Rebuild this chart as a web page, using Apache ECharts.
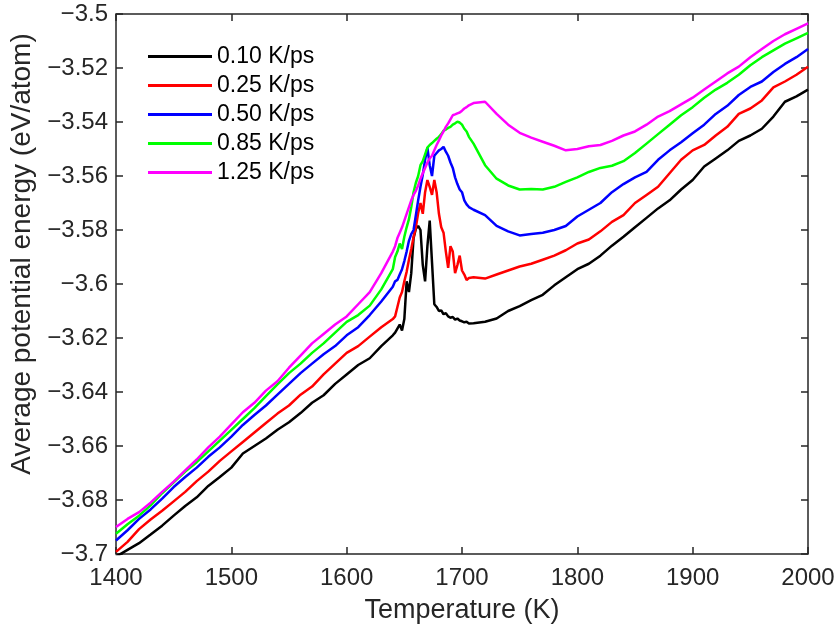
<!doctype html>
<html>
<head>
<meta charset="UTF-8">
<title>Average potential energy</title>
<script src="https://cdn.jsdelivr.net/npm/echarts@6/dist/echarts.min.js"></script>
<style>
html,body{margin:0;padding:0;background:#fff}
#main{width:839px;height:641px}
</style>
</head>
<body>
<div id="main"></div>
<script>
// temperature grid (K), denser round the melting peaks
var temps = [1400,1410,1420,1430,1440,1450,1460,1470,1480,1490,1500,1510,1520,1530,1540,1550,1560,1570,1580,1590,1600,1610,1620,1630,1640,
  1642,1644,1646,1648,1650,1652,1654,1656,1658,1660,1662,1664,1666,1668,1670,1672,1674,1676,1678,1680,1682,1684,1686,1688,1690,1692,1694,1696,1698,1700,1702,1704,1706,
  1710,1720,1730,1740,1750,1760,1770,1780,1790,1800,1810,1820,1830,1840,1850,1860,1870,1880,1890,1900,1910,1920,1930,1940,1950,1960,1970,1980,1990,2000];

var rate010 = [-3.7010,-3.6985,-3.6960,-3.6928,-3.6895,-3.6858,-3.6822,-3.6790,-3.6748,-3.6715,-3.6680,-3.6628,-3.6600,-3.6572,-3.6540,-3.6512,-3.6478,-3.6440,-3.6412,-3.6370,-3.6335,-3.6300,-3.6275,-3.6230,-3.6190,
  -3.6180,-3.6165,-3.6150,-3.6172,-3.6130,-3.5990,-3.6030,-3.5960,-3.5830,-3.5795,-3.5785,-3.5800,-3.5930,-3.5990,-3.5860,-3.5765,-3.5920,-3.6075,-3.6085,-3.6100,-3.6098,-3.6112,-3.6108,-3.6120,-3.6125,-3.6122,-3.6132,-3.6128,-3.6135,-3.6138,-3.6142,-3.6140,-3.6146,
  -3.6145,-3.6140,-3.6128,-3.6100,-3.6082,-3.6060,-3.6040,-3.6005,-3.5975,-3.5945,-3.5925,-3.5895,-3.5858,-3.5825,-3.5790,-3.5755,-3.5720,-3.5690,-3.5650,-3.5615,-3.5565,-3.5535,-3.5505,-3.5470,-3.5450,-3.5425,-3.5380,-3.5325,-3.5305,-3.5280];

var rate025 = [-3.6992,-3.6955,-3.6908,-3.6872,-3.6840,-3.6805,-3.6770,-3.6730,-3.6695,-3.6655,-3.6620,-3.6585,-3.6550,-3.6515,-3.6480,-3.6450,-3.6410,-3.6380,-3.6335,-3.6295,-3.6255,-3.6230,-3.6195,-3.6160,-3.6130,
  -3.6120,-3.6085,-3.6050,-3.6030,-3.5990,-3.5955,-3.5910,-3.5870,-3.5826,-3.5790,-3.5737,-3.5700,-3.5740,-3.5660,-3.5615,-3.5640,-3.5670,-3.5615,-3.5660,-3.5740,-3.5790,-3.5810,-3.5880,-3.5940,-3.5860,-3.5880,-3.5960,-3.5930,-3.5895,-3.5950,-3.5965,-3.5985,-3.5978,
  -3.5975,-3.5980,-3.5965,-3.5950,-3.5935,-3.5925,-3.5910,-3.5895,-3.5875,-3.5850,-3.5835,-3.5805,-3.5770,-3.5745,-3.5700,-3.5670,-3.5640,-3.5590,-3.5540,-3.5505,-3.5485,-3.5450,-3.5418,-3.5370,-3.5350,-3.5320,-3.5272,-3.5250,-3.5225,-3.5195];

var rate050 = [-3.6950,-3.6912,-3.6870,-3.6835,-3.6795,-3.6752,-3.6715,-3.6680,-3.6640,-3.6605,-3.6565,-3.6522,-3.6485,-3.6450,-3.6410,-3.6370,-3.6330,-3.6295,-3.6260,-3.6230,-3.6190,-3.6160,-3.6115,-3.6065,-3.6010,
  -3.5990,-3.5985,-3.5965,-3.5945,-3.5915,-3.5880,-3.5840,-3.5815,-3.5800,-3.5745,-3.5690,-3.5640,-3.5595,-3.5540,-3.5495,-3.5560,-3.5600,-3.5525,-3.5515,-3.5505,-3.5500,-3.5492,-3.5510,-3.5525,-3.5550,-3.5570,-3.5605,-3.5630,-3.5650,-3.5660,-3.5690,-3.5705,-3.5715,
  -3.5725,-3.5745,-3.5785,-3.5805,-3.5820,-3.5815,-3.5810,-3.5800,-3.5785,-3.5750,-3.5725,-3.5700,-3.5660,-3.5630,-3.5605,-3.5585,-3.5540,-3.5505,-3.5475,-3.5442,-3.5410,-3.5370,-3.5340,-3.5300,-3.5270,-3.5250,-3.5215,-3.5185,-3.5160,-3.5130];

var rate085 = [-3.6925,-3.6890,-3.6858,-3.6820,-3.6775,-3.6735,-3.6695,-3.6660,-3.6620,-3.6580,-3.6540,-3.6500,-3.6460,-3.6415,-3.6372,-3.6330,-3.6295,-3.6255,-3.6220,-3.6180,-3.6140,-3.6115,-3.6080,-3.6020,-3.5945,
  -3.5900,-3.5880,-3.5850,-3.5870,-3.5825,-3.5790,-3.5760,-3.5715,-3.5660,-3.5625,-3.5600,-3.5560,-3.5545,-3.5520,-3.5495,-3.5485,-3.5478,-3.5470,-3.5462,-3.5455,-3.5445,-3.5432,-3.5428,-3.5422,-3.5418,-3.5410,-3.5405,-3.5399,-3.5402,-3.5410,-3.5425,-3.5435,-3.5455,
  -3.5480,-3.5560,-3.5610,-3.5635,-3.5650,-3.5648,-3.5650,-3.5640,-3.5622,-3.5605,-3.5585,-3.5570,-3.5562,-3.5545,-3.5515,-3.5480,-3.5445,-3.5410,-3.5375,-3.5345,-3.5310,-3.5280,-3.5255,-3.5225,-3.5190,-3.5160,-3.5135,-3.5110,-3.5090,-3.5070];

var rate125 = [-3.6900,-3.6870,-3.6845,-3.6810,-3.6770,-3.6732,-3.6690,-3.6650,-3.6605,-3.6565,-3.6520,-3.6475,-3.6440,-3.6395,-3.6360,-3.6310,-3.6265,-3.6220,-3.6185,-3.6150,-3.6120,-3.6075,-3.6030,-3.5960,-3.5880,
  -3.5860,-3.5830,-3.5810,-3.5790,-3.5765,-3.5740,-3.5715,-3.5690,-3.5670,-3.5655,-3.5635,-3.5610,-3.5590,-3.5570,-3.5550,-3.5535,-3.5525,-3.5505,-3.5485,-3.5468,-3.5450,-3.5435,-3.5418,-3.5405,-3.5390,-3.5375,-3.5372,-3.5368,-3.5365,-3.5358,-3.5350,-3.5345,-3.5338,
  -3.5330,-3.5325,-3.5370,-3.5410,-3.5440,-3.5458,-3.5473,-3.5488,-3.5505,-3.5500,-3.5490,-3.5485,-3.5470,-3.5450,-3.5435,-3.5410,-3.5380,-3.5360,-3.5335,-3.5310,-3.5280,-3.5250,-3.5220,-3.5195,-3.5160,-3.5130,-3.5100,-3.5075,-3.5055,-3.5035];

var rateNames = ['0.10 K/ps', '0.25 K/ps', '0.50 K/ps', '0.85 K/ps', '1.25 K/ps'];
var rateColors = ['#000000', '#ff0000', '#0000ff', '#00ff00', '#ff00ff'];
var rateData = [rate010, rate025, rate050, rate085, rate125];

var font = 'Liberation Sans, Arial, sans-serif';
var ink = '#262626';

var myChart = echarts.init(document.getElementById('main'));

var series = rateData.map(function (vals, k) {
  return {
    name: rateNames[k],
    type: 'line',
    symbol: 'none',
    color: rateColors[k],
    lineStyle: { width: 2.5, color: rateColors[k] },
    data: temps.map(function (t, i) { return [t, vals[i]]; })
  };
});

var tick = { show: true, inside: true, length: 7, lineStyle: { color: ink, width: 1.5 } };

var option = {
  animation: false,
  backgroundColor: '#fff',
  grid: { left: 113, right: 31, top: 14, bottom: 87, show: true, borderColor: ink, borderWidth: 1.5 },
  legend: {
    orient: 'vertical', left: 143, top: 37,
    icon: 'rect', itemWidth: 64, itemHeight: 3, itemGap: 0,
    data: rateNames,
    textStyle: { fontFamily: font, fontSize: 23, color: '#000', lineHeight: 29 }
  },
  xAxis: [{
    type: 'value', min: 1400, max: 2000, interval: 100,
    name: 'Temperature (K)', nameLocation: 'middle', nameGap: 43,
    nameTextStyle: { fontFamily: font, fontSize: 27, color: ink },
    axisLine: { show: false }, axisTick: tick, splitLine: { show: false },
    axisLabel: { fontFamily: font, fontSize: 24, color: ink, margin: 12,
      formatter: function (v) { return String(v); } }
  }, {
    type: 'value', position: 'top', min: 1400, max: 2000, interval: 100,
    axisLine: { show: false }, axisTick: tick, splitLine: { show: false },
    axisLabel: { show: false }
  }],
  yAxis: [{
    type: 'value', min: -3.7, max: -3.5, interval: 0.02,
    name: 'Average potential energy (eV/atom)', nameLocation: 'middle', nameGap: 80,
    nameTextStyle: { fontFamily: font, fontSize: 28, color: ink, padding: [0, 0, 0, 60] },
    axisLine: { show: false }, axisTick: tick, splitLine: { show: false },
    axisLabel: {
      fontFamily: font, fontSize: 24, color: ink, margin: 8,
      formatter: function (v) { return String(+v.toFixed(2)).replace('-', '\u2212'); }
    }
  }, {
    type: 'value', position: 'right', min: -3.7, max: -3.5, interval: 0.02,
    axisLine: { show: false }, axisTick: tick, splitLine: { show: false },
    axisLabel: { show: false }
  }],
  series: series
};

myChart.setOption(option);
</script>
</body>
</html>
